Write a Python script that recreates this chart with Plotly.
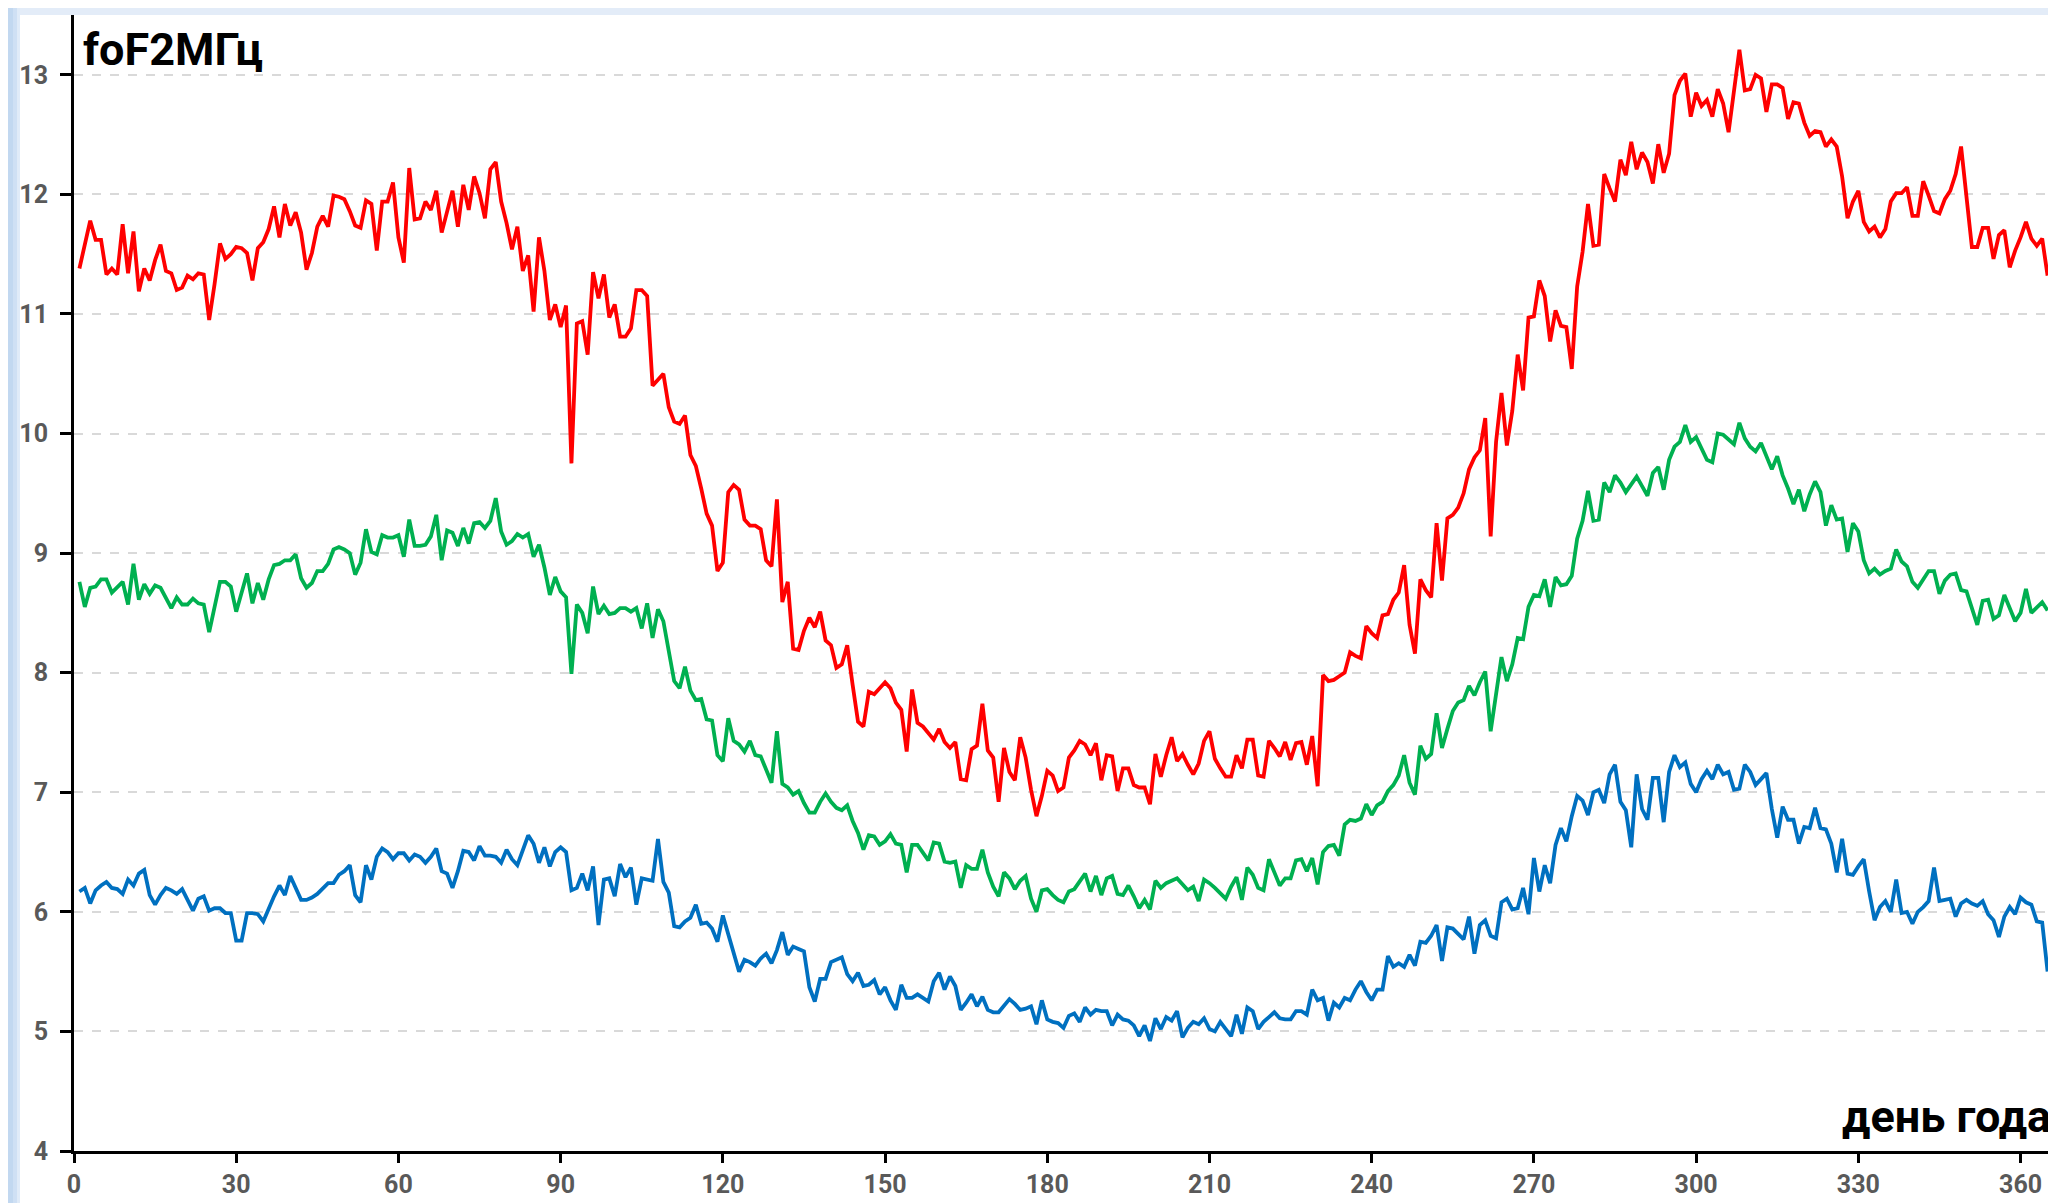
import plotly.graph_objects as go

days = list(range(1, 366))

red_vals = [
    11.38, 11.58, 11.78, 11.62, 11.62, 11.33, 11.38, 11.33, 11.75, 11.34,
    11.69, 11.19, 11.38, 11.28, 11.45, 11.58, 11.36, 11.34, 11.20, 11.22,
    11.32, 11.29, 11.34, 11.33, 10.95, 11.25, 11.59, 11.46, 11.50, 11.56,
    11.55, 11.51, 11.28, 11.55, 11.60, 11.71, 11.90, 11.64, 11.92, 11.74,
    11.85, 11.68, 11.37, 11.51, 11.73, 11.82, 11.73, 11.99, 11.98, 11.96,
    11.86, 11.74, 11.72, 11.95, 11.92, 11.53, 11.94, 11.94, 12.10, 11.64,
    11.43, 12.22, 11.79, 11.80, 11.94, 11.87, 12.03, 11.68, 11.86, 12.03,
    11.73, 12.08, 11.87, 12.15, 12.01, 11.80, 12.21, 12.27, 11.94, 11.76,
    11.54, 11.73, 11.36, 11.49, 11.02, 11.64, 11.36, 10.95, 11.08, 10.89,
    11.07, 9.75, 10.92, 10.94, 10.66, 11.35, 11.13, 11.33, 10.97, 11.08,
    10.81, 10.81, 10.88, 11.20, 11.20, 11.15, 10.40, 10.45, 10.50, 10.22,
    10.10, 10.08, 10.15, 9.82, 9.73, 9.54, 9.33, 9.23, 8.85, 8.92,
    9.51, 9.57, 9.53, 9.28, 9.23, 9.23, 9.20, 8.94, 8.89, 9.45,
    8.59, 8.76, 8.20, 8.19, 8.35, 8.46, 8.38, 8.51, 8.27, 8.23,
    8.04, 8.07, 8.23, 7.90, 7.59, 7.55, 7.84, 7.82, 7.87, 7.92,
    7.87, 7.75, 7.69, 7.34, 7.86, 7.58, 7.55, 7.50, 7.44, 7.53,
    7.42, 7.37, 7.42, 7.11, 7.10, 7.36, 7.39, 7.74, 7.35, 7.29,
    6.92, 7.37, 7.17, 7.10, 7.46, 7.29, 7.02, 6.80, 6.97, 7.18,
    7.14, 7.01, 7.04, 7.29, 7.35, 7.43, 7.40, 7.31, 7.41, 7.10,
    7.31, 7.30, 7.01, 7.20, 7.20, 7.06, 7.04, 7.04, 6.90, 7.32,
    7.13, 7.31, 7.46, 7.26, 7.32, 7.23, 7.15, 7.24, 7.43, 7.51,
    7.28, 7.20, 7.13, 7.13, 7.31, 7.20, 7.44, 7.44, 7.14, 7.13,
    7.43, 7.37, 7.30, 7.42, 7.27, 7.41, 7.42, 7.23, 7.47, 7.05,
    7.98, 7.93, 7.94, 7.97, 8.00, 8.17, 8.14, 8.12, 8.39, 8.33,
    8.29, 8.48, 8.49, 8.61, 8.67, 8.90, 8.40, 8.16, 8.78, 8.69,
    8.63, 9.25, 8.77, 9.29, 9.32, 9.38, 9.50, 9.70, 9.80, 9.86,
    10.13, 9.14, 9.93, 10.34, 9.90, 10.19, 10.66, 10.36, 10.97, 10.98,
    11.28, 11.15, 10.77, 11.03, 10.90, 10.89, 10.54, 11.23, 11.52, 11.92,
    11.57, 11.58, 12.17, 12.05, 11.94, 12.29, 12.16, 12.44, 12.21, 12.35,
    12.27, 12.09, 12.42, 12.18, 12.34, 12.83, 12.95, 13.01, 12.65, 12.85,
    12.74, 12.79, 12.65, 12.88, 12.76, 12.52, 12.86, 13.21, 12.87, 12.88,
    13.00, 12.97, 12.69, 12.92, 12.92, 12.89, 12.63, 12.77, 12.76, 12.60,
    12.49, 12.53, 12.52, 12.40, 12.46, 12.40, 12.15, 11.80, 11.94, 12.03,
    11.77, 11.69, 11.73, 11.64, 11.71, 11.94, 12.01, 12.01, 12.06, 11.82,
    11.82, 12.11, 11.99, 11.86, 11.84, 11.96, 12.03, 12.17, 12.40, 11.96,
    11.56, 11.56, 11.72, 11.72, 11.46, 11.66, 11.70, 11.39, 11.53, 11.64,
    11.77, 11.63, 11.57, 11.63, 11.32,
]

green_vals = [
    8.76, 8.55, 8.71, 8.72, 8.78, 8.78, 8.67, 8.71, 8.76, 8.57,
    8.91, 8.61, 8.74, 8.66, 8.73, 8.71, 8.62, 8.54, 8.63, 8.57,
    8.57, 8.62, 8.58, 8.57, 8.34, 8.57, 8.76, 8.76, 8.72, 8.51,
    8.68, 8.83, 8.58, 8.75, 8.61, 8.78, 8.90, 8.91, 8.94, 8.94,
    8.99, 8.79, 8.71, 8.75, 8.85, 8.85, 8.91, 9.03, 9.05, 9.03,
    9.00, 8.82, 8.92, 9.20, 9.01, 8.99, 9.15, 9.13, 9.13, 9.15,
    8.97, 9.28, 9.06, 9.06, 9.07, 9.14, 9.32, 8.94, 9.19, 9.17,
    9.06, 9.21, 9.08, 9.25, 9.26, 9.21, 9.27, 9.46, 9.18, 9.07,
    9.10, 9.16, 9.13, 9.16, 8.97, 9.07, 8.88, 8.65, 8.80, 8.68,
    8.63, 7.99, 8.57, 8.50, 8.33, 8.72, 8.49, 8.56, 8.49, 8.50,
    8.54, 8.54, 8.51, 8.54, 8.37, 8.58, 8.29, 8.53, 8.43, 8.18,
    7.93, 7.87, 8.05, 7.85, 7.77, 7.78, 7.61, 7.60, 7.31, 7.26,
    7.62, 7.43, 7.40, 7.34, 7.43, 7.31, 7.30, 7.19, 7.08, 7.51,
    7.07, 7.04, 6.98, 7.01, 6.91, 6.83, 6.83, 6.92, 6.99, 6.92,
    6.87, 6.85, 6.89, 6.76, 6.66, 6.52, 6.64, 6.63, 6.56, 6.59,
    6.65, 6.57, 6.56, 6.33, 6.56, 6.56, 6.49, 6.43, 6.58, 6.57,
    6.42, 6.41, 6.42, 6.20, 6.39, 6.36, 6.36, 6.52, 6.33, 6.21,
    6.13, 6.33, 6.28, 6.19, 6.26, 6.30, 6.11, 6.00, 6.18, 6.19,
    6.14, 6.10, 6.08, 6.17, 6.19, 6.26, 6.32, 6.17, 6.30, 6.14,
    6.28, 6.30, 6.15, 6.14, 6.22, 6.13, 6.03, 6.10, 6.02, 6.26,
    6.20, 6.24, 6.26, 6.28, 6.23, 6.18, 6.21, 6.09, 6.27, 6.24,
    6.20, 6.15, 6.11, 6.21, 6.29, 6.10, 6.37, 6.31, 6.20, 6.18,
    6.44, 6.33, 6.22, 6.28, 6.28, 6.43, 6.44, 6.34, 6.45, 6.23,
    6.50, 6.55, 6.56, 6.47, 6.73, 6.77, 6.76, 6.78, 6.90, 6.81,
    6.89, 6.92, 7.01, 7.06, 7.14, 7.31, 7.08, 6.98, 7.39, 7.28,
    7.32, 7.66, 7.37, 7.53, 7.68, 7.75, 7.77, 7.89, 7.81, 7.92,
    8.01, 7.51, 7.80, 8.13, 7.93, 8.07, 8.29, 8.28, 8.55, 8.65,
    8.64, 8.78, 8.55, 8.80, 8.73, 8.74, 8.81, 9.12, 9.27, 9.52,
    9.27, 9.28, 9.59, 9.51, 9.65, 9.59, 9.51, 9.58, 9.64, 9.56,
    9.48, 9.67, 9.72, 9.53, 9.78, 9.89, 9.93, 10.07, 9.93, 9.97,
    9.88, 9.78, 9.76, 10.00, 9.99, 9.95, 9.91, 10.09, 9.96, 9.89,
    9.85, 9.92, 9.81, 9.70, 9.81, 9.65, 9.54, 9.41, 9.53, 9.35,
    9.49, 9.60, 9.51, 9.23, 9.40, 9.28, 9.29, 9.01, 9.25, 9.18,
    8.94, 8.83, 8.87, 8.82, 8.85, 8.87, 9.03, 8.93, 8.89, 8.76,
    8.71, 8.78, 8.85, 8.85, 8.66, 8.77, 8.82, 8.83, 8.69, 8.68,
    8.53, 8.40, 8.60, 8.61, 8.45, 8.48, 8.65, 8.53, 8.43, 8.50,
    8.70, 8.50, 8.55, 8.59, 8.52,
]

blue_vals = [
    6.17, 6.20, 6.07, 6.18, 6.22, 6.25, 6.20, 6.19, 6.15, 6.27,
    6.22, 6.32, 6.35, 6.14, 6.06, 6.14, 6.20, 6.18, 6.15, 6.19,
    6.10, 6.01, 6.11, 6.13, 6.01, 6.03, 6.03, 5.99, 5.99, 5.76,
    5.76, 5.99, 5.99, 5.98, 5.92, 6.03, 6.13, 6.22, 6.14, 6.30,
    6.19, 6.10, 6.10, 6.12, 6.15, 6.20, 6.24, 6.24, 6.31, 6.34,
    6.39, 6.14, 6.08, 6.39, 6.27, 6.46, 6.53, 6.50, 6.44, 6.49,
    6.49, 6.43, 6.48, 6.46, 6.41, 6.46, 6.53, 6.34, 6.32, 6.20,
    6.34, 6.51, 6.50, 6.43, 6.55, 6.47, 6.47, 6.46, 6.41, 6.52,
    6.44, 6.39, 6.51, 6.64, 6.57, 6.41, 6.54, 6.38, 6.50, 6.54,
    6.50, 6.18, 6.20, 6.32, 6.18, 6.38, 5.89, 6.27, 6.28, 6.13,
    6.40, 6.29, 6.37, 6.06, 6.28, 6.27, 6.26, 6.61, 6.25, 6.16,
    5.88, 5.87, 5.92, 5.95, 6.06, 5.90, 5.91, 5.86, 5.75, 5.97,
    5.81, 5.65, 5.50, 5.60, 5.58, 5.55, 5.61, 5.65, 5.57, 5.68,
    5.83, 5.64, 5.71, 5.69, 5.67, 5.37, 5.25, 5.44, 5.44, 5.58,
    5.60, 5.62, 5.48, 5.42, 5.49, 5.38, 5.39, 5.43, 5.31, 5.37,
    5.26, 5.18, 5.39, 5.28, 5.28, 5.31, 5.28, 5.25, 5.42, 5.49,
    5.35, 5.46, 5.38, 5.18, 5.24, 5.31, 5.21, 5.29, 5.18, 5.16,
    5.16, 5.21, 5.27, 5.23, 5.18, 5.19, 5.21, 5.06, 5.26, 5.10,
    5.08, 5.07, 5.03, 5.13, 5.15, 5.08, 5.20, 5.14, 5.18, 5.17,
    5.17, 5.05, 5.14, 5.10, 5.09, 5.05, 4.96, 5.05, 4.92, 5.11,
    5.02, 5.12, 5.09, 5.17, 4.95, 5.03, 5.08, 5.06, 5.11, 5.02,
    5.00, 5.08, 5.02, 4.96, 5.14, 4.98, 5.20, 5.17, 5.02, 5.08,
    5.12, 5.16, 5.11, 5.10, 5.10, 5.17, 5.17, 5.14, 5.35, 5.26,
    5.28, 5.09, 5.24, 5.20, 5.28, 5.26, 5.35, 5.42, 5.33, 5.26,
    5.35, 5.35, 5.63, 5.54, 5.57, 5.54, 5.64, 5.55, 5.75, 5.74,
    5.80, 5.89, 5.59, 5.87, 5.86, 5.81, 5.77, 5.96, 5.65, 5.89,
    5.93, 5.80, 5.78, 6.08, 6.11, 6.02, 6.03, 6.20, 5.98, 6.45,
    6.17, 6.39, 6.24, 6.56, 6.70, 6.59, 6.80, 6.97, 6.93, 6.81,
    7.00, 7.02, 6.91, 7.15, 7.23, 6.92, 6.85, 6.54, 7.15, 6.86,
    6.77, 7.12, 7.12, 6.75, 7.17, 7.31, 7.21, 7.25, 7.07, 7.00,
    7.11, 7.18, 7.11, 7.23, 7.15, 7.17, 7.02, 7.03, 7.23, 7.17,
    7.06, 7.11, 7.16, 6.86, 6.62, 6.88, 6.77, 6.77, 6.57, 6.71,
    6.70, 6.87, 6.70, 6.69, 6.57, 6.33, 6.61, 6.32, 6.31, 6.38,
    6.44, 6.17, 5.93, 6.04, 6.09, 6.00, 6.27, 5.99, 6.00, 5.90,
    6.00, 6.04, 6.09, 6.37, 6.09, 6.10, 6.11, 5.96, 6.07, 6.10,
    6.07, 6.05, 6.09, 5.98, 5.93, 5.79, 5.96, 6.04, 5.98, 6.12,
    6.08, 6.06, 5.92, 5.91, 5.50,
]

x_ticks = [0, 30, 60, 90, 120, 150, 180, 210, 240, 270, 300, 330, 360]
y_ticks = [4, 5, 6, 7, 8, 9, 10, 11, 12, 13]
y_label = "foF2МГц"
x_label = "день года"

FONT = "Roboto, Noto Sans, sans-serif"

fig = go.Figure()
for vals, col in [(blue_vals, "#0070C0"), (green_vals, "#00B050"), (red_vals, "#FF0000")]:
    fig.add_trace(go.Scatter(x=days, y=vals, mode="lines",
                             line=dict(color=col, width=3.8), hoverinfo="skip"))

W, H = 2056, 1203
ml, mr, mt, mb = 66, 11, 7, 60
pw = W - ml - mr
ph = H - mt - mb

shapes = []
# light blue slide background strips (left and top)
strips = [(0, 5, "#C2D8F0"), (5, 9, "#CFE0F4"), (9, 12, "#E0EBF8")]
for a, b, c in strips:
    shapes.append(dict(type="rect", xref="paper", yref="paper",
                       x0=(a - ml) / pw, x1=(b - ml) / pw,
                       y0=-mb / ph, y1=(H - mb) / ph,
                       fillcolor=c, line=dict(width=0), layer="below"))
shapes.append(dict(type="rect", xref="paper", yref="paper",
                   x0=(12 - ml) / pw, x1=(W - ml) / pw,
                   y0=1.0, y1=(H - mb) / ph,
                   fillcolor="#E3ECF8", line=dict(width=0), layer="below"))

fig.update_layout(
    width=W, height=H,
    margin=dict(l=ml, r=mr, t=mt, b=mb),
    paper_bgcolor="white", plot_bgcolor="white",
    showlegend=False,
    shapes=shapes,
    xaxis=dict(range=[0, 366], tickvals=x_ticks, showgrid=False, zeroline=False,
               showline=True, linecolor="black", linewidth=3,
               ticks="outside", ticklen=9, tickwidth=3, tickcolor="black",
               ticklabelstandoff=0,
               tickfont=dict(family=FONT, size=25, color="#595959", weight=700)),
    yaxis=dict(range=[4, 13.5], tickvals=y_ticks, showgrid=True,
               gridcolor="#D9D9D9", gridwidth=1.5, griddash="dash", zeroline=False,
               showline=True, linecolor="black", linewidth=3,
               ticks="outside", ticklen=11, tickwidth=3, tickcolor="black",
               ticklabelstandoff=7,
               tickfont=dict(family=FONT, size=25, color="#595959", weight=700)),
    annotations=[
        dict(text=y_label, xref="x", yref="y", x=1.3, y=12.97, xanchor="left",
             yanchor="bottom", showarrow=False,
             font=dict(family=FONT, size=45, color="black", weight=700)),
        dict(text=x_label, xref="x", yref="y", x=366, y=4.05, xanchor="right",
             yanchor="bottom", showarrow=False,
             font=dict(family=FONT, size=45, color="black", weight=700)),
    ],
)

fig.write_html("out.html")
